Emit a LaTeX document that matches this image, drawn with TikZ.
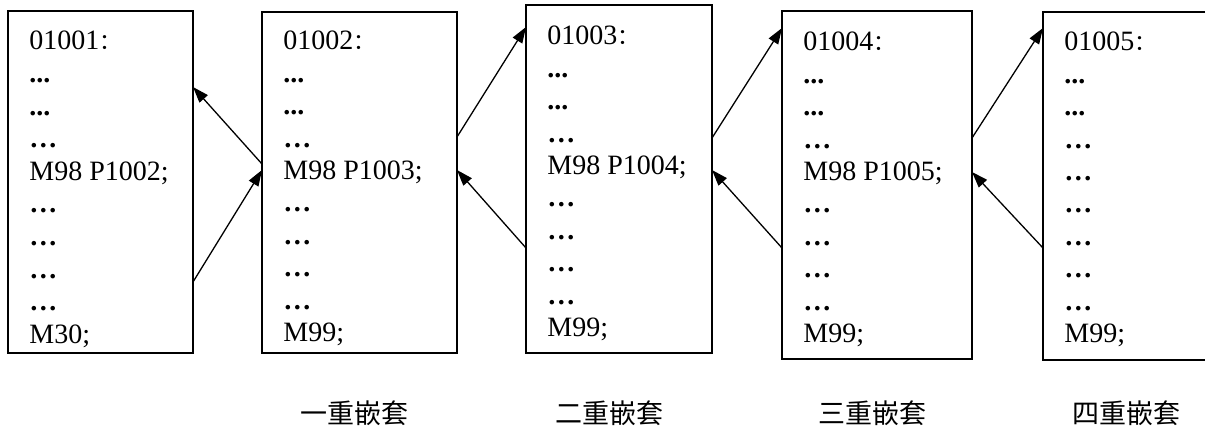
\documentclass[tikz,border=0pt]{standalone}
\usepackage{fontspec}
\setmainfont{Liberation Serif}
\newfontfamily\cjk{Noto Sans CJK SC}
\usepackage{tikz}
\usetikzlibrary{arrows.meta, calc}

\newcommand{\tdots}{\textbf{...}}
\newcommand{\sdots}{\textbf{…}}
\newcommand{\fwcolon}{{\cjk\fontsize{11}{12}\selectfont ：}}

\tikzset{
  prog/.style={draw, line width=.65pt, anchor=north west, inner sep=0pt, outer sep=0pt},
  code/.style={anchor=base west, inner sep=0pt, font=\fontsize{14}{16}\selectfont},
  call/.style={-{Triangle[length=8pt,width=5.5pt]}, line width=.65pt},
  level/.style={font=\cjk\fontsize{13.5}{16}\selectfont}
}

\begin{document}
\begin{tikzpicture}[x=0.5pt, y=-0.5pt]
        \path[use as bounding box] (0,0) rectangle (1209,432);

         % boxes
        \node[prog, minimum width=92.5pt, minimum height=171pt] (b1) at (8,11) {};
        \node[prog, minimum width=97.5pt, minimum height=170.5pt] (b2) at (262,12) {};
        \node[prog, minimum width=93pt, minimum height=174pt] (b3) at (526,5) {};
        \node[prog, minimum width=95pt, minimum height=174pt] (b4) at (782,11) {};
        \node[prog, draw=none, minimum width=81pt, minimum height=174pt] (b5) at (1043,12) {};
        \draw[line width=.65pt] (b5.north east) -- (b5.north west) -- (b5.south west) -- (b5.south east);

         % program lines
        \foreach \t [count=\i from 0] in {01001\fwcolon, \tdots, \tdots, \sdots, M98 P1002;, \sdots, \sdots, \sdots, \sdots, M30;}
          \node[code] (p1l\i) at (29, 50+32.6*\i) {\t};
        \foreach \t [count=\i from 0] in {01002\fwcolon, \tdots, \tdots, \sdots, M98 P1003;, \sdots, \sdots, \sdots, \sdots, M99;}
          \node[code] (p2l\i) at (283, 50+32.4*\i) {\t};
        \foreach \t [count=\i from 0] in {01003\fwcolon, \tdots, \tdots, \sdots, M98 P1004;, \sdots, \sdots, \sdots, \sdots, M99;}
          \node[code] (p3l\i) at (547, 45+32.4*\i) {\t};
        \foreach \t [count=\i from 0] in {01004\fwcolon, \tdots, \tdots, \sdots, M98 P1005;, \sdots, \sdots, \sdots, \sdots, M99;}
          \node[code] (p4l\i) at (803, 51+32.4*\i) {\t};
        \foreach \t [count=\i from 0] in {01005\fwcolon, \tdots, \tdots, \sdots, \sdots, \sdots, \sdots, \sdots, \sdots, M99;}
          \node[code] (p5l\i) at (1064, 51+32.4*\i) {\t};

         % calls and returns
        \draw[call] ($(b2.north west)+(0,152)$) -- ($(b1.north east)+(0,76)$);
        \draw[call] ($(b1.north east)+(0,271)$) -- ($(b2.north west)+(0,158)$);
        \draw[call] ($(b2.north east)+(0,125)$) -- ($(b3.north west)+(0,22)$);
        \draw[call] ($(b3.north west)+(0,243)$) -- ($(b2.north east)+(0,158)$);
        \draw[call] ($(b3.north east)+(0,133)$) -- ($(b4.north west)+(0,17)$);
        \draw[call] ($(b4.north west)+(0,237)$) -- ($(b3.north east)+(0,165)$);
        \draw[call] ($(b4.north east)+(0,127)$) -- ($(b5.north west)+(0,16)$);
        \draw[call] ($(b5.north west)+(0,236)$) -- ($(b4.north east)+(0,161)$);

         % levels
        \node[level] (n1) at (354,413) {一重嵌套};
        \node[level] (n2) at (609,413) {二重嵌套};
        \node[level] (n3) at (872,413) {三重嵌套};
        \node[level] (n4) at (1126,413) {四重嵌套};
      \end{tikzpicture}
\end{document}
